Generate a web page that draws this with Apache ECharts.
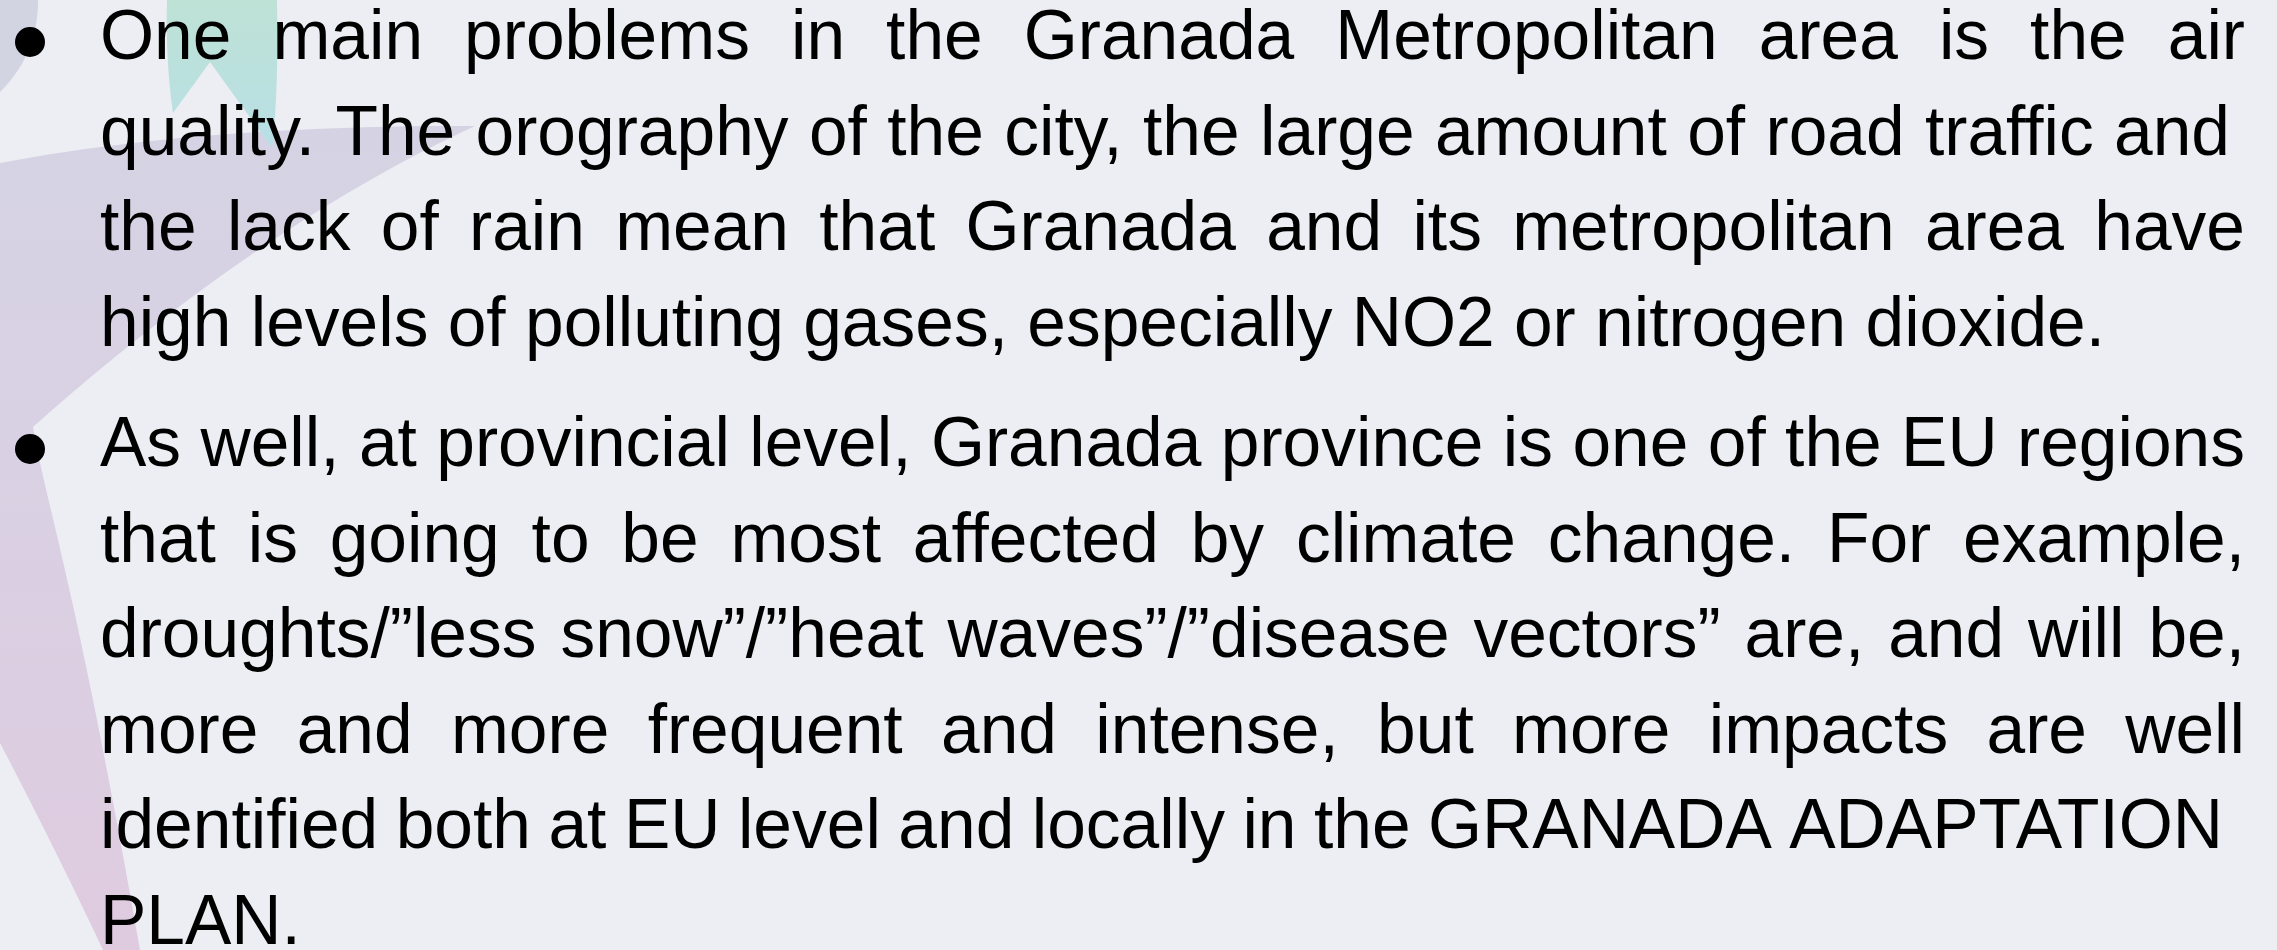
<!DOCTYPE html>
<html lang="en">
<head>
    <meta charset="utf-8">
    <title>Granada - air quality and climate change</title>
    <script src="https://cdn.jsdelivr.net/npm/echarts@6.0.0/dist/echarts.min.js"></script>
    <style>
        html, body { margin: 0; padding: 0; background: #EDEEF3; }
        #slide { width: 2277px; height: 950px; }
    </style>
</head>
<body>
<div id="slide"></div>
<script>
    // slide text, one entry per rendered line
    var paraOne = [
        'One main problems in the Granada Metropolitan area is the air',
        'quality. The orography of the city, the large amount of road traffic and',
        'the lack of rain mean that Granada and its metropolitan area have',
        'high levels of polluting gases, especially NO2 or nitrogen dioxide.'
    ];
    // true = justify to the right margin, number = justify to that x, false = left aligned
    var paraOneJustify = [true, 2230, true, false];

    var paraTwo = [
        'As well, at provincial level, Granada province is one of the EU regions',
        'that is going to be most affected by climate change. For example,',
        'droughts/\u201dless snow\u201d/\u201dheat waves\u201d/\u201ddisease vectors\u201d are, and will be,',
        'more and more frequent and intense, but more impacts are well',
        'identified both at EU level and locally in the GRANADA ADAPTATION',
        'PLAN.'
    ];
    var paraTwoJustify = [true, true, true, true, 2223, false];

    var fontSize = 69.5;
    var fontFamily = '"Liberation Sans", Arial, sans-serif';
    var font = fontSize + 'px ' + fontFamily;
    var textLeft = 100, textRight = 2245;
    var lineStep = 95.5;
    var paraStarts = [64, 471];   // first baseline of each paragraph

    // outlines of the background petals (M / L / Q / C commands)
    var petalBig = [['M', 0, 163], ['Q', 200, 125, 475, 126], ['Q', 260, 225, 33, 427],
        ['C', 45, 500, 75, 580, 140, 950], ['L', 103, 950], ['C', 70, 880, 35, 810, 0, 743]];
    var petalCorner = [['M', 0, 0], ['L', 38, 0], ['C', 38, 30, 30, 62, 0, 92]];
    var petalTeal = [['M', 167, 0], ['L', 277, 0], ['C', 278, 50, 277, 110, 272, 148],
        ['L', 210, 62], ['L', 173, 113], ['C', 168, 80, 166, 40, 167, 0]];

    var chart = echarts.init(document.getElementById('slide'));

    // turn the outline commands into a polygon point list
    function outline(cmds) {
        var pts = [], cur = [0, 0];
        cmds.forEach(function (c) {
            var t, k, n = 24;
            if (c[0] === 'M' || c[0] === 'L') {
                cur = [c[1], c[2]];
                pts.push(cur);
            } else if (c[0] === 'Q') {
                for (k = 1; k <= n; k++) {
                    t = k / n;
                    pts.push([
                        (1 - t) * (1 - t) * cur[0] + 2 * (1 - t) * t * c[1] + t * t * c[3],
                        (1 - t) * (1 - t) * cur[1] + 2 * (1 - t) * t * c[2] + t * t * c[4]
                    ]);
                }
                cur = [c[3], c[4]];
            } else if (c[0] === 'C') {
                for (k = 1; k <= n; k++) {
                    t = k / n;
                    var a = (1 - t) * (1 - t) * (1 - t), b = 3 * (1 - t) * (1 - t) * t,
                        d = 3 * (1 - t) * t * t, e = t * t * t;
                    pts.push([
                        a * cur[0] + b * c[1] + d * c[3] + e * c[5],
                        a * cur[1] + b * c[2] + d * c[4] + e * c[6]
                    ]);
                }
                cur = [c[5], c[6]];
            }
        });
        return pts;
    }

    var ctx = document.createElement('canvas').getContext('2d');
    ctx.font = font;
    var spaceW = ctx.measureText(' ').width;

    // lay out one line word by word (justified or left aligned)
    function lineWords(line, baseline, justify) {
        var words = line.split(' ');
        var widths = words.map(function (w) { return ctx.measureText(w).width; });
        var total = widths.reduce(function (a, b) { return a + b; }, 0);
        var gap = spaceW;
        if (justify && words.length > 1) {
            var right = justify === true ? textRight : justify;
            gap = (right - textLeft - total) / (words.length - 1);
        }
        var x = textLeft;
        var out = [];
        words.forEach(function (w, i) {
            out.push({
                type: 'text',
                x: x,
                y: baseline - fontSize * 0.3465,
                style: {
                    text: w,
                    font: font,
                    fill: '#000000',
                    align: 'left',
                    verticalAlign: 'middle'
                },
                z: 10
            });
            x += widths[i] + gap;
        });
        return out;
    }

    var elements = [];

    // decorative petals on the left
    elements.push({
        type: 'polygon',
        shape: {points: outline(petalBig)},
        style: {
            fill: new echarts.graphic.LinearGradient(0, 0, 0, 1, [
                {offset: 0, color: '#D5D3E3'},
                {offset: 0.4, color: '#D9D1E3'},
                {offset: 1, color: '#DFCBE0'}
            ])
        },
        z: 1
    });
    elements.push({
        type: 'polygon',
        shape: {points: outline(petalCorner)},
        style: {fill: '#D2D4E2'},
        z: 1
    });
    elements.push({
        type: 'polygon',
        shape: {points: outline(petalTeal)},
        style: {
            fill: new echarts.graphic.LinearGradient(0, 0, 0, 1, [
                {offset: 0, color: '#BEE2D5'},
                {offset: 1, color: '#B8DFE6'}
            ])
        },
        z: 2
    });

    // bullets + text
    [paraOne, paraTwo].forEach(function (para, p) {
        var flags = p === 0 ? paraOneJustify : paraTwoJustify;
        var first = paraStarts[p];
        elements.push({
            type: 'circle',
            shape: {cx: 30, cy: first - 22, r: 15},
            style: {fill: '#000000'},
            z: 10
        });
        para.forEach(function (line, i) {
            elements = elements.concat(lineWords(line, first + i * lineStep, flags[i]));
        });
    });

    chart.setOption({
        backgroundColor: '#EDEEF3',
        animation: false,
        graphic: {elements: elements}
    });
</script>
</body>
</html>
